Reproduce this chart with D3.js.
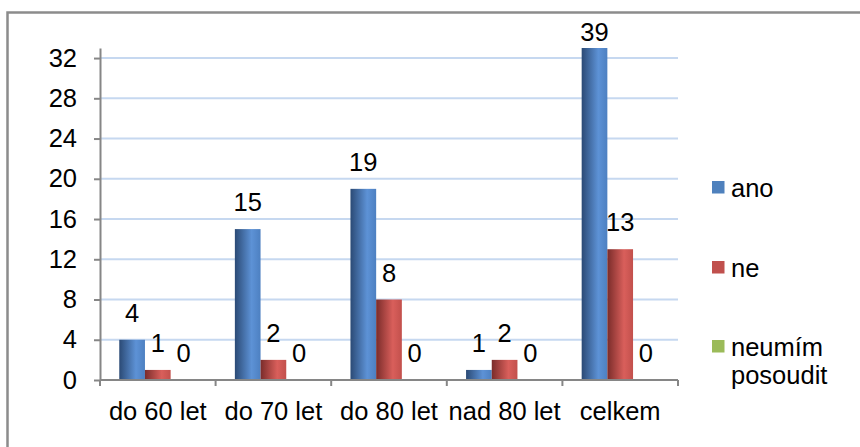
<!DOCTYPE html>
<html>
<head>
<meta charset="utf-8">
<script src="https://cdn.jsdelivr.net/npm/d3@7/dist/d3.min.js"></script>
<style>
  html, body { margin: 0; padding: 0; background: #fff; }
  svg { display: block; }
  text { font-family: "Liberation Sans", Arial, sans-serif; fill: #000; }
</style>
</head>
<body>
<svg id="chart" width="860" height="447"></svg>
<script>
// Age groups and answer counts
const categories = ["do 60 let", "do 70 let", "do 80 let", "nad 80 let", "celkem"];
const seriesNames = ["ano", "ne", "neumím posoudit"];
const ano = [4, 15, 19, 1, 39];
const ne = [1, 2, 8, 2, 13];
const neumim = [0, 0, 0, 0, 0];
const yTicks = [0, 4, 8, 12, 16, 20, 24, 28, 32];
const yMax = 33;

const seriesValues = [ano, ne, neumim];
const seriesColors = [
  { dark: "#2b4a75", light: "#5d92d6", edge: "#4d80c1", legend: "#4f81bd" },
  { dark: "#7a2c2a", light: "#d95f5b", edge: "#c2504c", legend: "#c0504d" },
  { dark: "#5e7a2e", light: "#a8c866", edge: "#94b555", legend: "#9bbb59" }
];
const fontSize = 25.5;

const svg = d3.select("#chart");
const plot = { left: 100, right: 678, top: 48, bottom: 380 };

// Outer frame
svg.append("rect")
  .attr("x", 7.5).attr("y", 12.5)
  .attr("width", 900).attr("height", 500)
  .attr("fill", "none")
  .attr("stroke", "#8c8c8c")
  .attr("stroke-width", 2.5);

// Bar gradients (dark left edge, highlight toward the right)
const defs = svg.append("defs");
seriesColors.forEach((c, i) => {
  const g = defs.append("linearGradient")
    .attr("id", "grad" + i)
    .attr("x1", "0").attr("y1", "0").attr("x2", "1").attr("y2", "0");
  g.append("stop").attr("offset", "0%").attr("stop-color", c.dark);
  g.append("stop").attr("offset", "65%").attr("stop-color", c.light);
  g.append("stop").attr("offset", "100%").attr("stop-color", c.edge);
});

const x0 = d3.scaleBand()
  .domain(categories)
  .range([plot.left, plot.right])
  .paddingInner(0)
  .paddingOuter(0);

const groupW = x0.bandwidth();
const barW = groupW / 4.5; // gap width 150%
const x1 = d3.scaleBand()
  .domain(d3.range(seriesNames.length))
  .range([barW * 0.75, groupW - barW * 0.75]);

const y = d3.scaleLinear()
  .domain([0, yMax])
  .range([plot.bottom, plot.top]);

// Gridlines
svg.append("g")
  .selectAll("line")
  .data(yTicks.filter(t => t > 0))
  .join("line")
  .attr("x1", plot.left).attr("x2", plot.right)
  .attr("y1", d => y(d)).attr("y2", d => y(d))
  .attr("stroke", "#c6d8f0")
  .attr("stroke-width", 2);

// Bars
const groups = svg.append("g")
  .selectAll("g")
  .data(categories)
  .join("g")
  .attr("transform", d => `translate(${x0(d)},0)`);

seriesValues.forEach((vals, si) => {
  groups.append("rect")
    .attr("x", x1(si))
    .attr("width", x1.bandwidth())
    .attr("y", (d, ci) => y(Math.min(vals[ci], yMax)))
    .attr("height", (d, ci) => y(0) - y(Math.min(vals[ci], yMax)))
    .attr("fill", `url(#grad${si})`);
});

// Value labels
seriesValues.forEach((vals, si) => {
  groups.append("text")
    .attr("x", x1(si) + x1.bandwidth() / 2)
    .attr("y", (d, ci) => Math.max(y(Math.min(vals[ci], yMax)) - 18, 41))
    .attr("text-anchor", "middle")
    .attr("font-size", fontSize)
    .text((d, ci) => vals[ci]);
});

// Y axis
const yAxis = svg.append("g")
  .attr("transform", `translate(${plot.left},0)`)
  .call(d3.axisLeft(y).tickValues(yTicks).tickSize(6).tickPadding(17).tickSizeOuter(0));
yAxis.select(".domain").attr("stroke", "#868686").attr("stroke-width", 2);
yAxis.selectAll(".tick line").attr("stroke", "#868686").attr("stroke-width", 2);
yAxis.selectAll(".tick text")
  .attr("font-size", fontSize)
  .attr("font-family", "Liberation Sans, Arial, sans-serif")
  .attr("fill", "#000");

// X axis with boundary ticks between categories
const xg = svg.append("g").attr("transform", `translate(0,${plot.bottom})`);
xg.append("line")
  .attr("x1", plot.left).attr("x2", plot.right)
  .attr("stroke", "#868686").attr("stroke-width", 2);
const boundaries = categories.map(c => x0(c)).concat([plot.right]);
xg.selectAll("line.b")
  .data(boundaries)
  .join("line")
  .attr("class", "b")
  .attr("x1", d => d).attr("x2", d => d)
  .attr("y1", 0).attr("y2", 6)
  .attr("stroke", "#868686").attr("stroke-width", 2);
xg.selectAll("text")
  .data(categories)
  .join("text")
  .attr("x", d => x0(d) + groupW / 2)
  .attr("y", 40)
  .attr("text-anchor", "middle")
  .attr("font-size", fontSize)
  .text(d => d);

// Legend
const legend = svg.append("g").attr("transform", "translate(712,0)");
const legendRows = [
  { lines: ["ano"], y: 197 },
  { lines: ["ne"], y: 277 },
  { lines: ["neumím", "posoudit"], y: 356 }
];
legendRows.forEach((row, i) => {
  legend.append("rect")
    .attr("x", 0).attr("y", row.y - 16)
    .attr("width", 12.5).attr("height", 12.5)
    .attr("fill", seriesColors[i].legend);
  const t = legend.append("text")
    .attr("x", 19).attr("y", row.y)
    .attr("font-size", fontSize);
  row.lines.forEach((ln, li) => {
    t.append("tspan").attr("x", 19).attr("dy", li === 0 ? 0 : 28).text(ln);
  });
});
</script>
</body>
</html>
